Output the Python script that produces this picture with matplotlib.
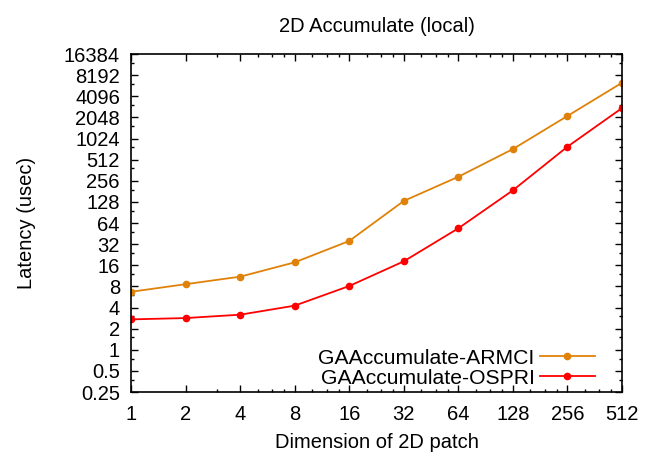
import matplotlib
matplotlib.use("Agg")
import matplotlib.pyplot as plt
from matplotlib.ticker import FixedLocator, NullFormatter

plt.rcParams['font.family'] = ['Liberation Sans', 'DejaVu Sans']

# data
patch_dims = [1, 2, 4, 8, 16, 32, 64, 128, 256, 512]
armci = [6.7, 8.6, 11.0, 17.6, 35.5, 132, 292, 724, 2145, 6380]
ospri = [2.71, 2.83, 3.16, 4.25, 8.1, 18.2, 53.8, 187, 783, 2780]
y_ticks = [0.25, 0.5, 1, 2, 4, 8, 16, 32, 64, 128, 256, 512,
           1024, 2048, 4096, 8192, 16384]
y_labels = ['0.25', '0.5', '1', '2', '4', '8', '16', '32', '64', '128',
            '256', '512', '1024', '2048', '4096', '8192', '16384']

fs = 14.5

fig = plt.figure(figsize=(6.52, 4.57), dpi=100)
ax = fig.add_axes([0.2009, 0.1422, 0.7531, 0.7396])

ax.plot(patch_dims, armci, color='#e0820a', lw=1.3, marker='o', ms=4.5,
        label='GAAccumulate-ARMCI')
ax.plot(patch_dims, ospri, color='#ff0000', lw=1.3, marker='o', ms=4.5,
        label='GAAccumulate-OSPRI')

ax.set_xscale('log', base=2)
ax.set_yscale('log', base=2)
ax.set_xlim(1, 512)
ax.set_ylim(0.25, 16384)

ax.set_xticks(patch_dims)
ax.set_xticklabels([str(d) for d in patch_dims])
ax.set_yticks(y_ticks)
ax.set_yticklabels(y_labels)

# minor ticks like gnuplot
xminor = [3]
for k in range(2, 9):
    xminor += [2**k * f for f in (1.25, 1.5, 1.75)]
ax.xaxis.set_minor_locator(FixedLocator(xminor))
ax.yaxis.set_minor_locator(FixedLocator([t * 1.5 for t in y_ticks[:-1]]))
ax.xaxis.set_minor_formatter(NullFormatter())
ax.yaxis.set_minor_formatter(NullFormatter())

ax.tick_params(which='both', direction='in', top=True, right=True,
               labelsize=fs, width=1)
ax.tick_params(which='major', length=5)
ax.tick_params(axis='x', which='major', pad=9)
ax.tick_params(axis='y', which='major', pad=8)
ax.tick_params(which='minor', length=2.5)
for s in ax.spines.values():
    s.set_linewidth(1.2)

ax.set_title('2D Accumulate (local)', fontsize=fs, pad=16)
ax.set_xlabel('Dimension of 2D patch', fontsize=fs, labelpad=7)
ax.set_ylabel('Latency (usec)', fontsize=fs, labelpad=20)

ax.legend(loc='lower right', bbox_to_anchor=(0.962, -0.012), frameon=False,
          markerfirst=False, fontsize=15.2, handlelength=2.6,
          labelspacing=0.05, borderaxespad=0, handletextpad=0.25)

fig.savefig('out.png', dpi=100)
